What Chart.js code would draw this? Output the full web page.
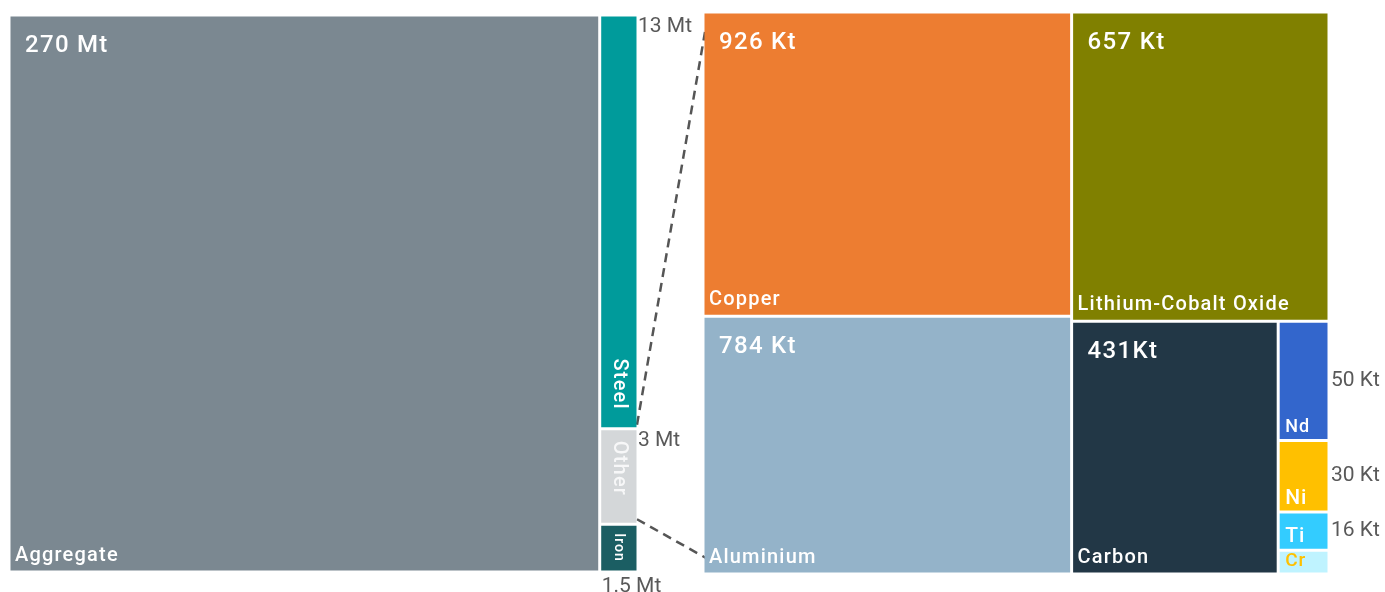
<!DOCTYPE html>
<html>
<head>
<meta charset="utf-8">
<script src="https://cdn.jsdelivr.net/npm/chart.js@4.4.1/dist/chart.umd.min.js"></script>
<style>
  body { margin: 0; background: #fff; }
  #wrap { width: 1385px; height: 592px; position: relative; }
</style>
</head>
<body>
<div id="wrap"><canvas id="tree"></canvas></div>
<script>
// Material tonnage: overview and breakdown of "Other"
const overviewNames = ['Aggregate', 'Steel', 'Other', 'Iron'];
const overviewValues = [270, 13, 3, 1.5];
const overviewTexts = ['270 Mt', '13 Mt', '3 Mt', '1.5 Mt'];

const otherNames = ['Copper', 'Aluminium', 'Lithium-Cobalt Oxide', 'Carbon', 'Nd', 'Ni', 'Ti', 'Cr'];
const otherValues = [926, 784, 657, 431, 50, 30, 16, 10];
const otherTexts = ['926 Kt', '784 Kt', '657 Kt', '431Kt', '50 Kt', '30 Kt', '16 Kt', ''];

const overviewColors = ['#7b8891', '#009b9b', '#d4d7d9', '#1b5e63'];
const otherColors = ['#ed7d31', '#94b3c9', '#808000', '#223746', '#3366cc', '#ffc000', '#33ccff', '#bff3ff'];

// layout frames (canvas units) for the two treemaps
const leftFrame = { x: 9, y: 15, w: 629, h: 557 };
const rightFrame = { x: 703, y: 12, w: 626, h: 562 };
const GAP = 3;
const FONT = 'Roboto, "Open Sans", sans-serif';

function sum(arr) { return arr.reduce((a, b) => a + b, 0); }

function worst(row, side) {
    const s = sum(row);
    const mx = Math.max(...row), mn = Math.min(...row);
    return Math.max(side * side * mx / (s * s), (s * s) / (side * side * mn));
}

// squarified treemap, values sorted large -> small
function squarify(values, frame) {
    let { x, y, w, h } = frame;
    const k = w * h / sum(values);
    const areas = values.map(v => v * k);
    const out = [];
    let i = 0;
    while (i < areas.length) {
        const side = Math.min(w, h);
        const row = [areas[i]];
        let j = i + 1;
        while (j < areas.length && worst(row.concat(areas[j]), side) <= worst(row, side)) {
            row.push(areas[j]);
            j++;
        }
        const rs = sum(row);
        if (w >= h) {
            const cw = rs / h;
            let cy = y;
            row.forEach(a => { const ch = a / cw; out.push({ x0: x, y0: cy, x1: x + cw, y1: cy + ch }); cy += ch; });
            x += cw; w -= cw;
        } else {
            const rh = rs / w;
            let cx = x;
            row.forEach(a => { const cwid = a / rh; out.push({ x0: cx, y0: y, x1: cx + cwid, y1: y + rh }); cx += cwid; });
            y += rh; h -= rh;
        }
        i = j;
    }
    return out;
}

const leftCells = squarify(overviewValues, leftFrame);
const rightCells = squarify(otherValues, rightFrame);

const cells = [];
leftCells.forEach((r, i) => cells.push({ ...r, name: overviewNames[i], text: overviewTexts[i], color: overviewColors[i] }));
rightCells.forEach((r, i) => cells.push({ ...r, name: otherNames[i], text: otherTexts[i], color: otherColors[i] }));

// how each cell gets labelled
const labelMode = {
    'Aggregate': 'inside', 'Steel': 'vertical', 'Other': 'vertical', 'Iron': 'vertical',
    'Copper': 'inside', 'Aluminium': 'inside', 'Lithium-Cobalt Oxide': 'inside', 'Carbon': 'inside',
    'Nd': 'small', 'Ni': 'small', 'Ti': 'small', 'Cr': 'small'
};

function rectDataset(c) {
    const h = GAP / 2;
    const x0 = c.x0 + h, x1 = c.x1 - h, y0 = c.y0 + h, y1 = c.y1 - h;
    return {
        type: 'line',
        data: [{ x: x0, y: y0 }, { x: x1, y: y0 }, { x: x1, y: y1 }, { x: x0, y: y1 }, { x: x0, y: y0 }],
        backgroundColor: c.color,
        borderColor: 'rgba(0,0,0,0)',
        borderWidth: 1,
        fill: 'shape',
        pointRadius: 0,
        tension: 0
    };
}

// dashed lines from "Other" to its breakdown
const otherCell = cells.find(c => c.name === 'Other');
const connectors = [
    [{ x: otherCell.x1 - 1, y: otherCell.y0 - 4 }, { x: rightFrame.x + 2, y: rightFrame.y + 20 }],
    [{ x: otherCell.x1 - 1, y: otherCell.y1 - 5 }, { x: rightFrame.x + 3, y: rightFrame.y + rightFrame.h - 16 }]
].map(pts => ({
    type: 'line',
    data: pts,
    borderColor: '#555555',
    borderWidth: 2.5,
    borderDash: [9, 6],
    fill: false,
    pointRadius: 0
}));

function txt(ctx, s, x, y, size, color, align, baseline, spacing, weight) {
    ctx.font = (weight || 400) + ' ' + size + 'px ' + FONT;
    ctx.fillStyle = color;
    ctx.textAlign = align;
    ctx.textBaseline = baseline;
    ctx.letterSpacing = (spacing || 0) + 'px';
    ctx.fillText(s, x, y);
}

const labelPlugin = {
    id: 'cellLabels',
    afterDatasetsDraw(chart) {
        const ctx = chart.ctx;
        const xs = chart.scales.x, ys = chart.scales.y;
        const grey = '#595959';
        ctx.save();
        cells.forEach(c => {
            const px0 = xs.getPixelForValue(c.x0), px1 = xs.getPixelForValue(c.x1);
            const py0 = ys.getPixelForValue(c.y0), py1 = ys.getPixelForValue(c.y1);
            const mode = labelMode[c.name];
            if (mode === 'inside') {
                txt(ctx, c.text, px0 + 16, py0 + 19, 24, '#ffffff', 'left', 'top', 1.3, 500);
                txt(ctx, c.name, px0 + 6, py1 - 11, 20, '#ffffff', 'left', 'alphabetic', 1.2, 500);
            } else if (mode === 'vertical') {
                const cx = (px0 + px1) / 2;
                ctx.save();
                if (c.name === 'Steel') {
                    ctx.translate(cx, py1 - 19);
                    ctx.rotate(Math.PI / 2);
                    txt(ctx, c.name, 0, 0, 20, '#ffffff', 'right', 'middle', 1.2, 500);
                } else if (c.name === 'Other') {
                    ctx.translate(cx, py0 + 12);
                    ctx.rotate(Math.PI / 2);
                    txt(ctx, c.name, 0, 0, 20, 'rgba(255,255,255,0.8)', 'left', 'middle', 1.2, 500);
                } else {
                    ctx.translate(cx, py0 + 9);
                    ctx.rotate(Math.PI / 2);
                    txt(ctx, c.name, 0, 0, 14, '#ffffff', 'left', 'middle', 1, 500);
                }
                ctx.restore();
                if (c.name === 'Iron') {
                    txt(ctx, c.text, px0 + 2, py1 + 4, 21, grey, 'left', 'top', 0);
                } else {
                    txt(ctx, c.text, px1, py0 + 1, 21, grey, 'left', 'top', 0);
                }
            } else {
                const size = c.name === 'Nd' ? 18 : (c.name === 'Cr' ? 19 : 21);
                const color = c.name === 'Cr' ? '#ffc000' : '#ffffff';
                txt(ctx, c.name, px0 + 7, py1 - 8, size, color, 'left', 'alphabetic', 1, 500);
                if (c.text) {
                    txt(ctx, c.text, px1 + 2, (py0 + py1) / 2, 21, grey, 'left', 'middle', 0);
                }
            }
        });
        ctx.restore();
    }
};

new Chart(document.getElementById('tree'), {
    type: 'line',
    data: { datasets: cells.map(rectDataset).concat(connectors) },
    options: {
        responsive: true,
        maintainAspectRatio: false,
        animation: false,
        events: [],
        layout: { padding: 0 },
        scales: {
            x: { type: 'linear', min: 0, max: 1385, display: false },
            y: { type: 'linear', min: 0, max: 592, reverse: true, display: false }
        },
        plugins: {
            legend: { display: false },
            tooltip: { enabled: false }
        }
    },
    plugins: [labelPlugin]
});
</script>
</body>
</html>
